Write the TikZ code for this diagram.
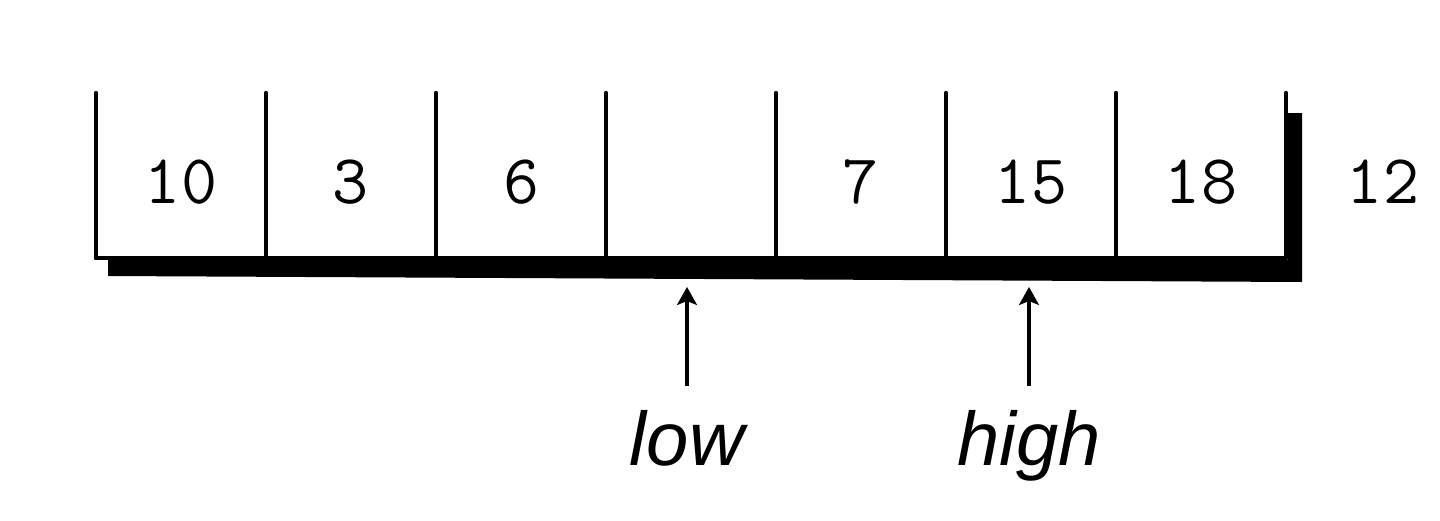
\documentclass[tikz,border=0pt]{standalone}
\usepackage{fontspec}
\setsansfont{Liberation Sans}
\usetikzlibrary{positioning,arrows.meta,calc}

\begin{document}
\begin{tikzpicture}[
    x=0.5pt, y=-0.5pt,
    >={Stealth[length=9pt,width=10pt,inset=2pt]},
    every node/.style={inner sep=0pt},
    cell/.style={font=\ttfamily\fontsize{35}{35}\selectfont, anchor=center},
    ptrlabel/.style={font=\sffamily\itshape\fontsize{38}{38}\selectfont, anchor=base},
    wall/.style={line width=2.2pt, line cap=round},
    ptr/.style={->, line width=1.6pt, shorten <=12pt},
]

\useasboundingbox (0,0) rectangle (1440,520);

\def\cw{170}
\def\xo{96}

% --- Cell walls and floor ---
\foreach \i in {0,...,7}
    \draw[wall] ({\xo+\i*\cw},93) -- ({\xo+\i*\cw},258);
\draw[wall] (\xo,258) -- ({\xo+7*\cw},258);

% --- Heavy shadow under and right of the array ---
\fill (108,259) -- (1288,260) -- (1288,113) -- (1302,113)
      -- (1302,282) -- (108,276) -- cycle;

% --- Values in the cells ---
\foreach \v [count=\i] in {10,3,6,{},7,15,18}
    \node[cell] (c\i) at ({\xo+(\i-0.5)*\cw},182) {\v};

% --- Value waiting outside ---
\node[cell] (spill) at (1383,182) {12};

% --- Pointers below the array ---
\node[ptrlabel] (low)  at (687,465) {low};
\node[ptrlabel] (high) at (1029,465) {high};
\coordinate (lowtip)  at (low |- 0,287);
\coordinate (hightip) at (high |- 0,287);

\draw[ptr] (low.north)  -- (lowtip);
\draw[ptr] (high.north) -- (hightip);

\end{tikzpicture}
\end{document}
